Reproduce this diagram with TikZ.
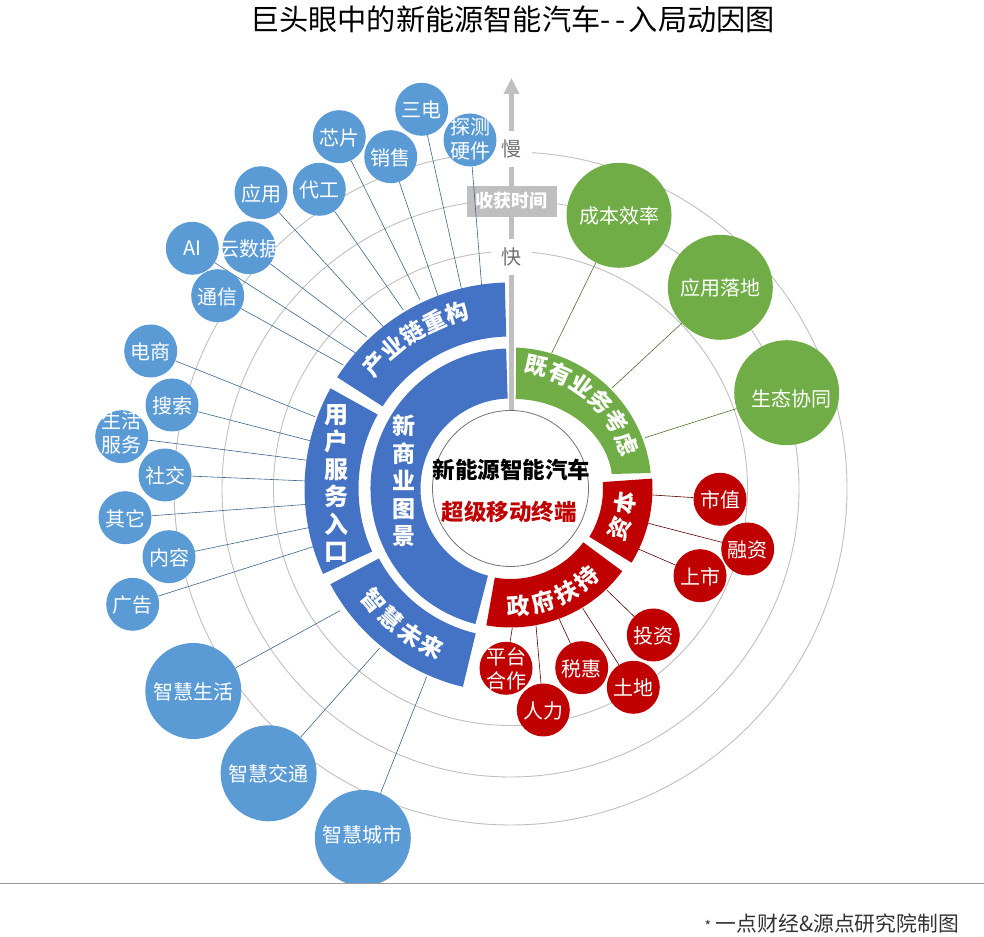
\documentclass[tikz,border=0pt]{standalone}
\usepackage{fontspec}
\setmainfont{Noto Sans CJK SC}
\usepackage{xcolor}
\usetikzlibrary{arrows.meta}
\definecolor{bubblue}{HTML}{5B9BD5}
\definecolor{secblue}{HTML}{4472C4}
\definecolor{secgreen}{HTML}{70AD47}
\definecolor{secred}{HTML}{C00000}
\definecolor{axisgray}{HTML}{BFBFBF}
\tikzset{
  bubble/.style={circle,text=white,inner sep=-14pt,align=center,text depth=0pt,
    font=\fontsize{20}{24}\selectfont},
  smallblue/.style={bubble,fill=bubblue,minimum size=53pt},
  bigblue/.style={bubble,fill=bubblue,minimum size=96pt},
  bubgreen/.style={bubble,fill=secgreen,minimum size=105pt},
  bubred/.style={bubble,fill=secred,minimum size=53pt},
  ringtext/.style={text=white,inner sep=0pt,font=\fontsize{23}{24}\selectfont\bfseries},
  guide/.style={axisgray,line width=.9pt},
  axislabel/.style={fill=white,text=black!55,minimum width=41pt,minimum height=36pt,
    inner sep=0pt,font=\fontsize{20}{24}\selectfont},
  linkblue/.style={draw=bubblue!65!black,line width=.6pt},
  linkgreen/.style={draw=secgreen!65!black,line width=.6pt},
  linkred/.style={draw=secred!45!black,line width=.6pt}
}
% colour, inner radius, outer radius, start angle, end angle
\newcommand{\ringsector}[5]{
  \fill[#1] (#4:#2) arc[start angle=#4,end angle=#5,radius=#2]
    -- (#5:#3) arc[start angle=#5,end angle=#4,radius=#3] -- cycle;
}
% name, characters, radius, start angle, step, turn of the characters
\newcommand{\arctext}[6]{
  \foreach \c [count=\i from 0] in {#2} {
    \pgfmathsetmacro{\ang}{#4+\i*#5}
    \node[ringtext,rotate=\ang#6] (#1-\i) at (\ang:#3) {\c};
  }
}
\begin{document}
\begin{tikzpicture}[x=1pt,y=1pt]
  \useasboundingbox (0,0) rectangle (984,936);
  \coordinate (ctr) at (510.5,447.5);

  \foreach \r in {237,288.5,336.5}
    \draw[guide] (ctr) circle[radius=\r];

  \coordinate (axisbot) at (511.5,525);
  \coordinate (axistop) at (511.5,858);
  \draw[axisgray,line width=5pt,-{Triangle[length=16pt,width=15pt]}] (axisbot) -- (axistop);
  \node[axislabel] (slow) at (511.5,787) {慢};
  \node[axislabel] (fast) at (511.5,679) {快};
  \node[fill=axisgray,text=white,minimum width=90pt,minimum height=31pt,inner sep=0pt,
    font=\fontsize{18}{20}\selectfont\bfseries] (harvest) at (511.7,734.8) {收获时间};

  % bubbles round the outside
  \node[smallblue,text depth=9pt] (shenghuo) at (121.7,499.3) {生活\\服务};
  \coordinate (shenghuo-end) at (318.3,474.3);
  \draw[linkblue] (shenghuo) -- (shenghuo-end);
  \foreach \nm/\x/\y/\ex/\ey/\txt in {
    sandian/421.7/826.7/461.7/646/三电,
    xinpian/339.3/799.3/420/636/芯片,
    xiaoshou/390.7/779.3/438.3/639.3/销售,
    daigong/319.3/746.7/403.3/626/代工,
    yingyong/261/743.3/383.3/609.3/应用,
    yunshuju/249/688.3/366.7/599.3/云数据,
    ai/192.3/687.7/357/582/AI,
    tongxin/217.7/640.3/343.3/571/通信,
    dianshang/150.7/585/315/519.3/电商,
    sousuo/172/531/320/492.7/搜索,
    shejiao/165/461/323.3/454.3/社交,
    qita/125/418.3/321.7/432.7/其它,
    neirong/169/379.3/316.7/410/内容,
    guanggao/132.7/331.7/313.3/389.3/广告} {
    \node[smallblue] (\nm) at (\x,\y) {\txt};
    \coordinate (\nm-end) at (\ex,\ey);
    \draw[linkblue] (\nm) -- (\nm-end);
  }
  \node[smallblue,text depth=4pt] (tance) at (470,796) {探测\\硬件};
  \coordinate (tance-end) at (483.3,629.3);
  \draw[linkblue] (tance) -- (tance-end);
  \foreach \nm/\x/\y/\ex/\ey/\txt in {
    zhshenghuo/193.3/245/340/325.3/智慧生活,
    zhjiaotong/268.6/162.7/379.7/288/智慧交通,
    zhchengshi/362.8/98/426.7/259.3/\raisebox{8pt}{智慧城市}} {
    \node[bigblue] (\nm) at (\x,\y) {\txt};
    \coordinate (\nm-end) at (\ex,\ey);
    \draw[linkblue] (\nm) -- (\nm-end);
  }
  \foreach \nm/\x/\y/\ex/\ey/\txt in {
    chengben/619/720.7/551.7/583/成本效率,
    luodi/720.3/648.7/611.7/547.7/应用落地,
    xietong/786.7/543.3/645/498.3/\hspace*{10pt}生态协同\rule{0pt}{28pt}} {
    \node[bubgreen] (\nm) at (\x,\y) {\txt};
    \coordinate (\nm-end) at (\ex,\ey);
    \draw[linkgreen] (\nm) -- (\nm-end);
  }
  \foreach \nm/\x/\y/\ex/\ey/\txt in {
    shizhi/720/436.7/652.7/441/市值,
    shangshi/700/360.3/638.3/387/上市,
    rongzi/747.7/387/648.3/412.7/融资,
    touzi/653.3/301/606.7/346/投资,
    pingtai/506/267.7/512.3/308.3/{平台\\合作},
    renli/543.3/226/536/310.3/人力,
    shuihui/581.7/268.3/559.3/316.7/税惠,
    tudi/633.3/248.7/582.7/327.7/土地} {
    \node[bubred] (\nm) at (\x,\y) {\txt};
    \coordinate (\nm-end) at (\ex,\ey);
    \draw[linkred] (\nm) -- (\nm-end);
  }

  \begin{scope}[shift={(ctr)}]
    \ringsector{secblue}{90}{140}{91.8}{255.5}
    \ringsector{secblue}{152}{206}{91.6}{147.3}
    \ringsector{secblue}{152}{206}{150.9}{204.5}
    \ringsector{secblue}{149}{204}{208}{256.5}
    \ringsector{secred}{90.5}{139}{260}{323.5}
    \ringsector{secred}{92.5}{142}{-31.5}{4}
    \fill[secgreen] (5.2,89.5) .. controls (58,88.5) and (97,52) .. (101.2,14.5)
      -- (140.2,15.5) arc[start angle=6.3,end angle=87.7,radius=141] -- cycle;

    \arctext{chain}{产,业,链,重,构}{184}{137.6}{-7.7}{-90}
    \arctext{exist}{既,有,业,务,考,虑}{125}{78}{-11.4}{-90}
    \arctext{future}{智,慧,未,来}{177}{219.4}{8.1}{+90}
    \arctext{gov}{政,府,扶,持}{118}{273.7}{12.2}{+90}
    \arctext{capital}{资,本}{116}{-20.5}{13.3}{+90}
  \end{scope}

  \node[ringtext,align=center,font=\fontsize{24}{27.5}\selectfont\bfseries] (user) at (336.7,452.7)
    {用\\户\\服\\务\\入\\口};
  \node[ringtext,align=center,font=\fontsize{23}{27.5}\selectfont\bfseries] (biz) at (404.3,455)
    {新\\商\\业\\图\\景};

  \node[circle,draw=black!55,fill=white,line width=.8pt,minimum size=156pt,inner sep=0pt] (hub) at (ctr) {};
  \node[inner sep=0pt,font=\fontsize{22.5}{24}\selectfont\bfseries] (hubtop) at (511.5,466) {新能源智能汽车};
  \node[inner sep=0pt,text=secred,font=\fontsize{22.5}{24}\selectfont\bfseries] (hubbot) at (509,424) {超级移动终端};

  % strip below the rule
  \fill[white] (0,0) rectangle (984,52.7);
  \coordinate (ruleL) at (0,52.7);
  \coordinate (ruleR) at (984,52.7);
  \draw[black!40,line width=.9pt] (ruleL) -- (ruleR);

  \node[inner sep=0pt,font=\fontsize{29.2}{30}\selectfont] (title) at (512.5,917)
    {巨头眼中的新能源智能汽车-\hspace{5pt}-\hspace{3pt}入局动因图};
  \node[anchor=east,inner sep=0pt,text=black!80,font=\fontsize{20.8}{22}\selectfont] (credit) at (959,12)
    {{\fontsize{14}{14}\selectfont *} 一点财经\&源点研究院制图};
\end{tikzpicture}
\end{document}
